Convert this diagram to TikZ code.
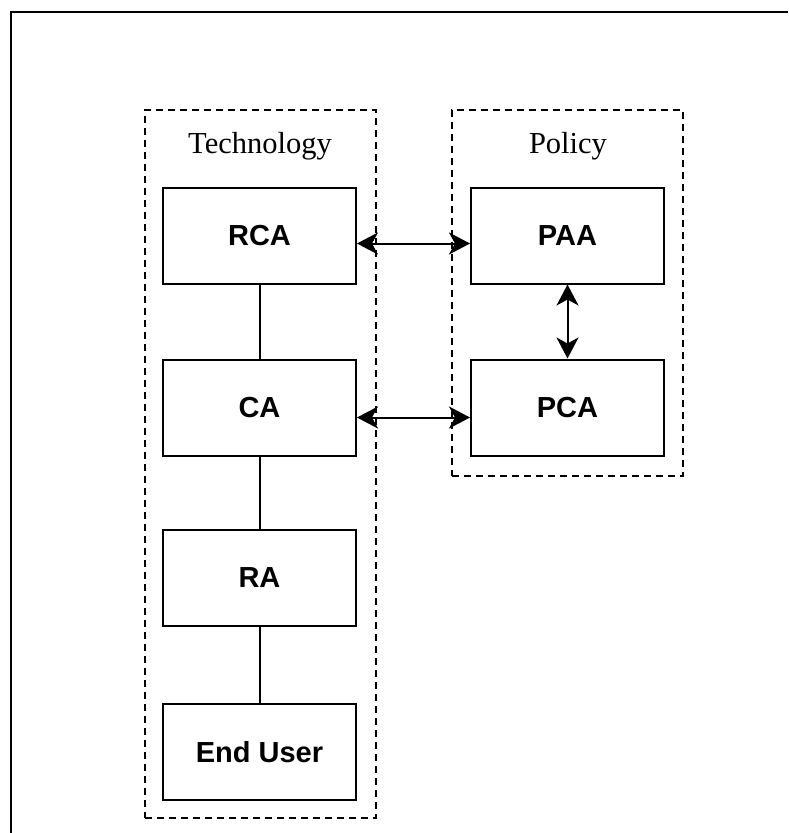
\documentclass[tikz,border=0pt]{standalone}
\usepackage{fontspec}
\setmainfont{Liberation Serif}
\setsansfont{Liberation Sans}
\usetikzlibrary{arrows.meta}

\tikzset{
    unit/.style={draw, line width=2pt, minimum width=193pt, minimum height=96pt, inner sep=0pt, font=\sffamily\bfseries\fontsize{29}{34}\selectfont},
    group/.style={draw, line width=2pt, dash pattern=on 7pt off 5pt, inner sep=0pt},
    title/.style={anchor=base, font=\fontsize{30.5}{36}\selectfont},
    link/.style={line width=2pt, {Stealth[length=21pt,width=22pt,inset=6pt]}-{Stealth[length=21pt,width=22pt,inset=6pt]}}
}

\begin{document}
\begin{tikzpicture}[x=1pt, y=-1pt]
        \useasboundingbox (0,0) rectangle (788,833);

        % Outer frame
        \draw[line width=2.2pt] (788,12) -- (11,12) -- (11,833);

        % Dashed groups
        \node[group, minimum width=231pt, minimum height=708pt] (tech) at (260.5,464) {};
        \node[group, minimum width=231pt, minimum height=366pt] (policy) at (567.5,293) {};
        \node[title] (techlabel) at (260,153) {Technology};
        \node[title] (policylabel) at (568,153) {Policy};

        % Technology column
        \node[unit] (rca) at (259.5,235.5) {RCA};
        \node[unit] (ca) at (259.5,407.5) {CA};
        \node[unit] (ra) at (259.5,578) {RA};
        \node[unit] (user) at (259.5,752) {End User};

        % Policy column
        \node[unit] (paa) at (567.5,235.5) {PAA};
        \node[unit] (pca) at (567.5,407.5) {PCA};

        % Chain of the technology column
        \foreach \a/\b in {rca/ca, ca/ra, ra/user} {
            \draw[line width=2pt] (\a) -- (\b);
        }

        % Links between the columns
        \draw[link] ([yshift=-8pt]rca.east) -- ([yshift=-8pt]paa.west);
        \draw[link] ([yshift=-10pt]ca.east) -- ([yshift=-10pt]pca.west);
        \draw[link] (paa) -- (pca);
    \end{tikzpicture}
\end{document}
